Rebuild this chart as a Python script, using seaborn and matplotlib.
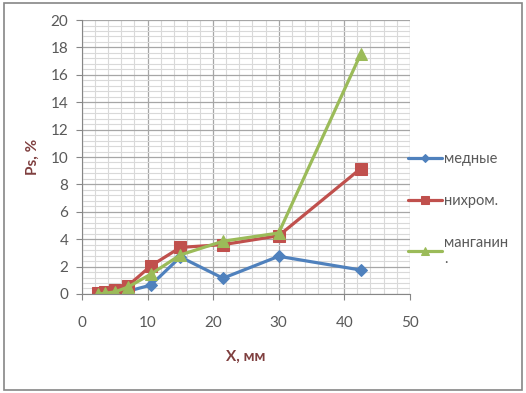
import matplotlib
matplotlib.use('Agg')
import matplotlib.pyplot as plt
import matplotlib.patches as mpatches
from matplotlib.ticker import MultipleLocator
import pandas as pd
import seaborn as sns

# wire samples, x in mm, Ps in %
x_mm = [2.5, 3.5, 5.0, 7.0, 10.5, 15.0, 21.5, 30.0, 42.5]
copper = [0.0, 0.05, 0.1, 0.2, 0.65, 2.7, 1.15, 2.75, 1.75]
nichrome = [0.1, 0.15, 0.3, 0.6, 2.05, 3.4, 3.6, 4.25, 9.15]
manganin = [0.0, 0.05, 0.15, 0.5, 1.45, 2.85, 3.85, 4.45, 17.5]

names = ['медные', 'нихром.', 'манганин\n.']
colors = ['#4F81BD', '#C0504D', '#9BBB59']
markers = ['D', 's', '^']
msizes = [6, 8, 8]

sns.set_style('white')
plt.rcParams['font.family'] = ['Lato', 'DejaVu Sans']

fig = plt.figure(figsize=(5.26, 3.93), dpi=100)
ax = fig.add_axes([0.156, 0.252, 0.623, 0.697])

for name, vals, c, m, ms in zip(names, [copper, nichrome, manganin], colors, markers, msizes):
    df = pd.DataFrame({'x': x_mm, 'y': vals})
    sns.lineplot(data=df, x='x', y='y', ax=ax, color=c, marker=m, markersize=ms,
                 markeredgecolor=c, linewidth=2.3, sort=False, label=name)

ax.set_xlim(0, 50)
ax.set_ylim(0, 20)
ax.xaxis.set_major_locator(MultipleLocator(10))
ax.xaxis.set_minor_locator(MultipleLocator(2))
ax.yaxis.set_major_locator(MultipleLocator(2))
ax.yaxis.set_minor_locator(MultipleLocator(0.4))
ax.grid(which='major', color='#a6a6a6', linewidth=0.9)
ax.grid(which='minor', color='#d9d9d9', linewidth=0.8)
ax.set_axisbelow(True)

for s in ['top', 'right']:
    ax.spines[s].set_visible(False)
for s in ['left', 'bottom']:
    ax.spines[s].set_color('#868686')
ax.tick_params(which='major', direction='out', length=4, color='#868686',
               labelsize=11, labelcolor='#595959', left=True, bottom=True)
ax.tick_params(axis='x', which='major', pad=12)
ax.tick_params(axis='y', which='major', pad=6)
ax.tick_params(which='minor', length=0)

ax.set_xlabel('X, мм', color='#7F3F3F', fontsize=11, fontweight='bold', labelpad=14)
ax.set_ylabel('Ps, %', color='#7F3F3F', fontsize=11, fontweight='bold', labelpad=8)

leg = ax.legend(loc='center left', bbox_to_anchor=(0.995, 0.31), frameon=False,
                fontsize=10.5, labelspacing=1.9, handlelength=2.3, handletextpad=0.15,
                markerscale=0.75, borderaxespad=0, borderpad=0)
for t in leg.get_texts():
    t.set_color('#595959')

fig.patches.append(mpatches.Rectangle((0.008, 0.008), 0.984, 0.984, transform=fig.transFigure,
                                      fill=False, edgecolor='#868686', linewidth=1.2))

fig.savefig('out.png', dpi=100)
